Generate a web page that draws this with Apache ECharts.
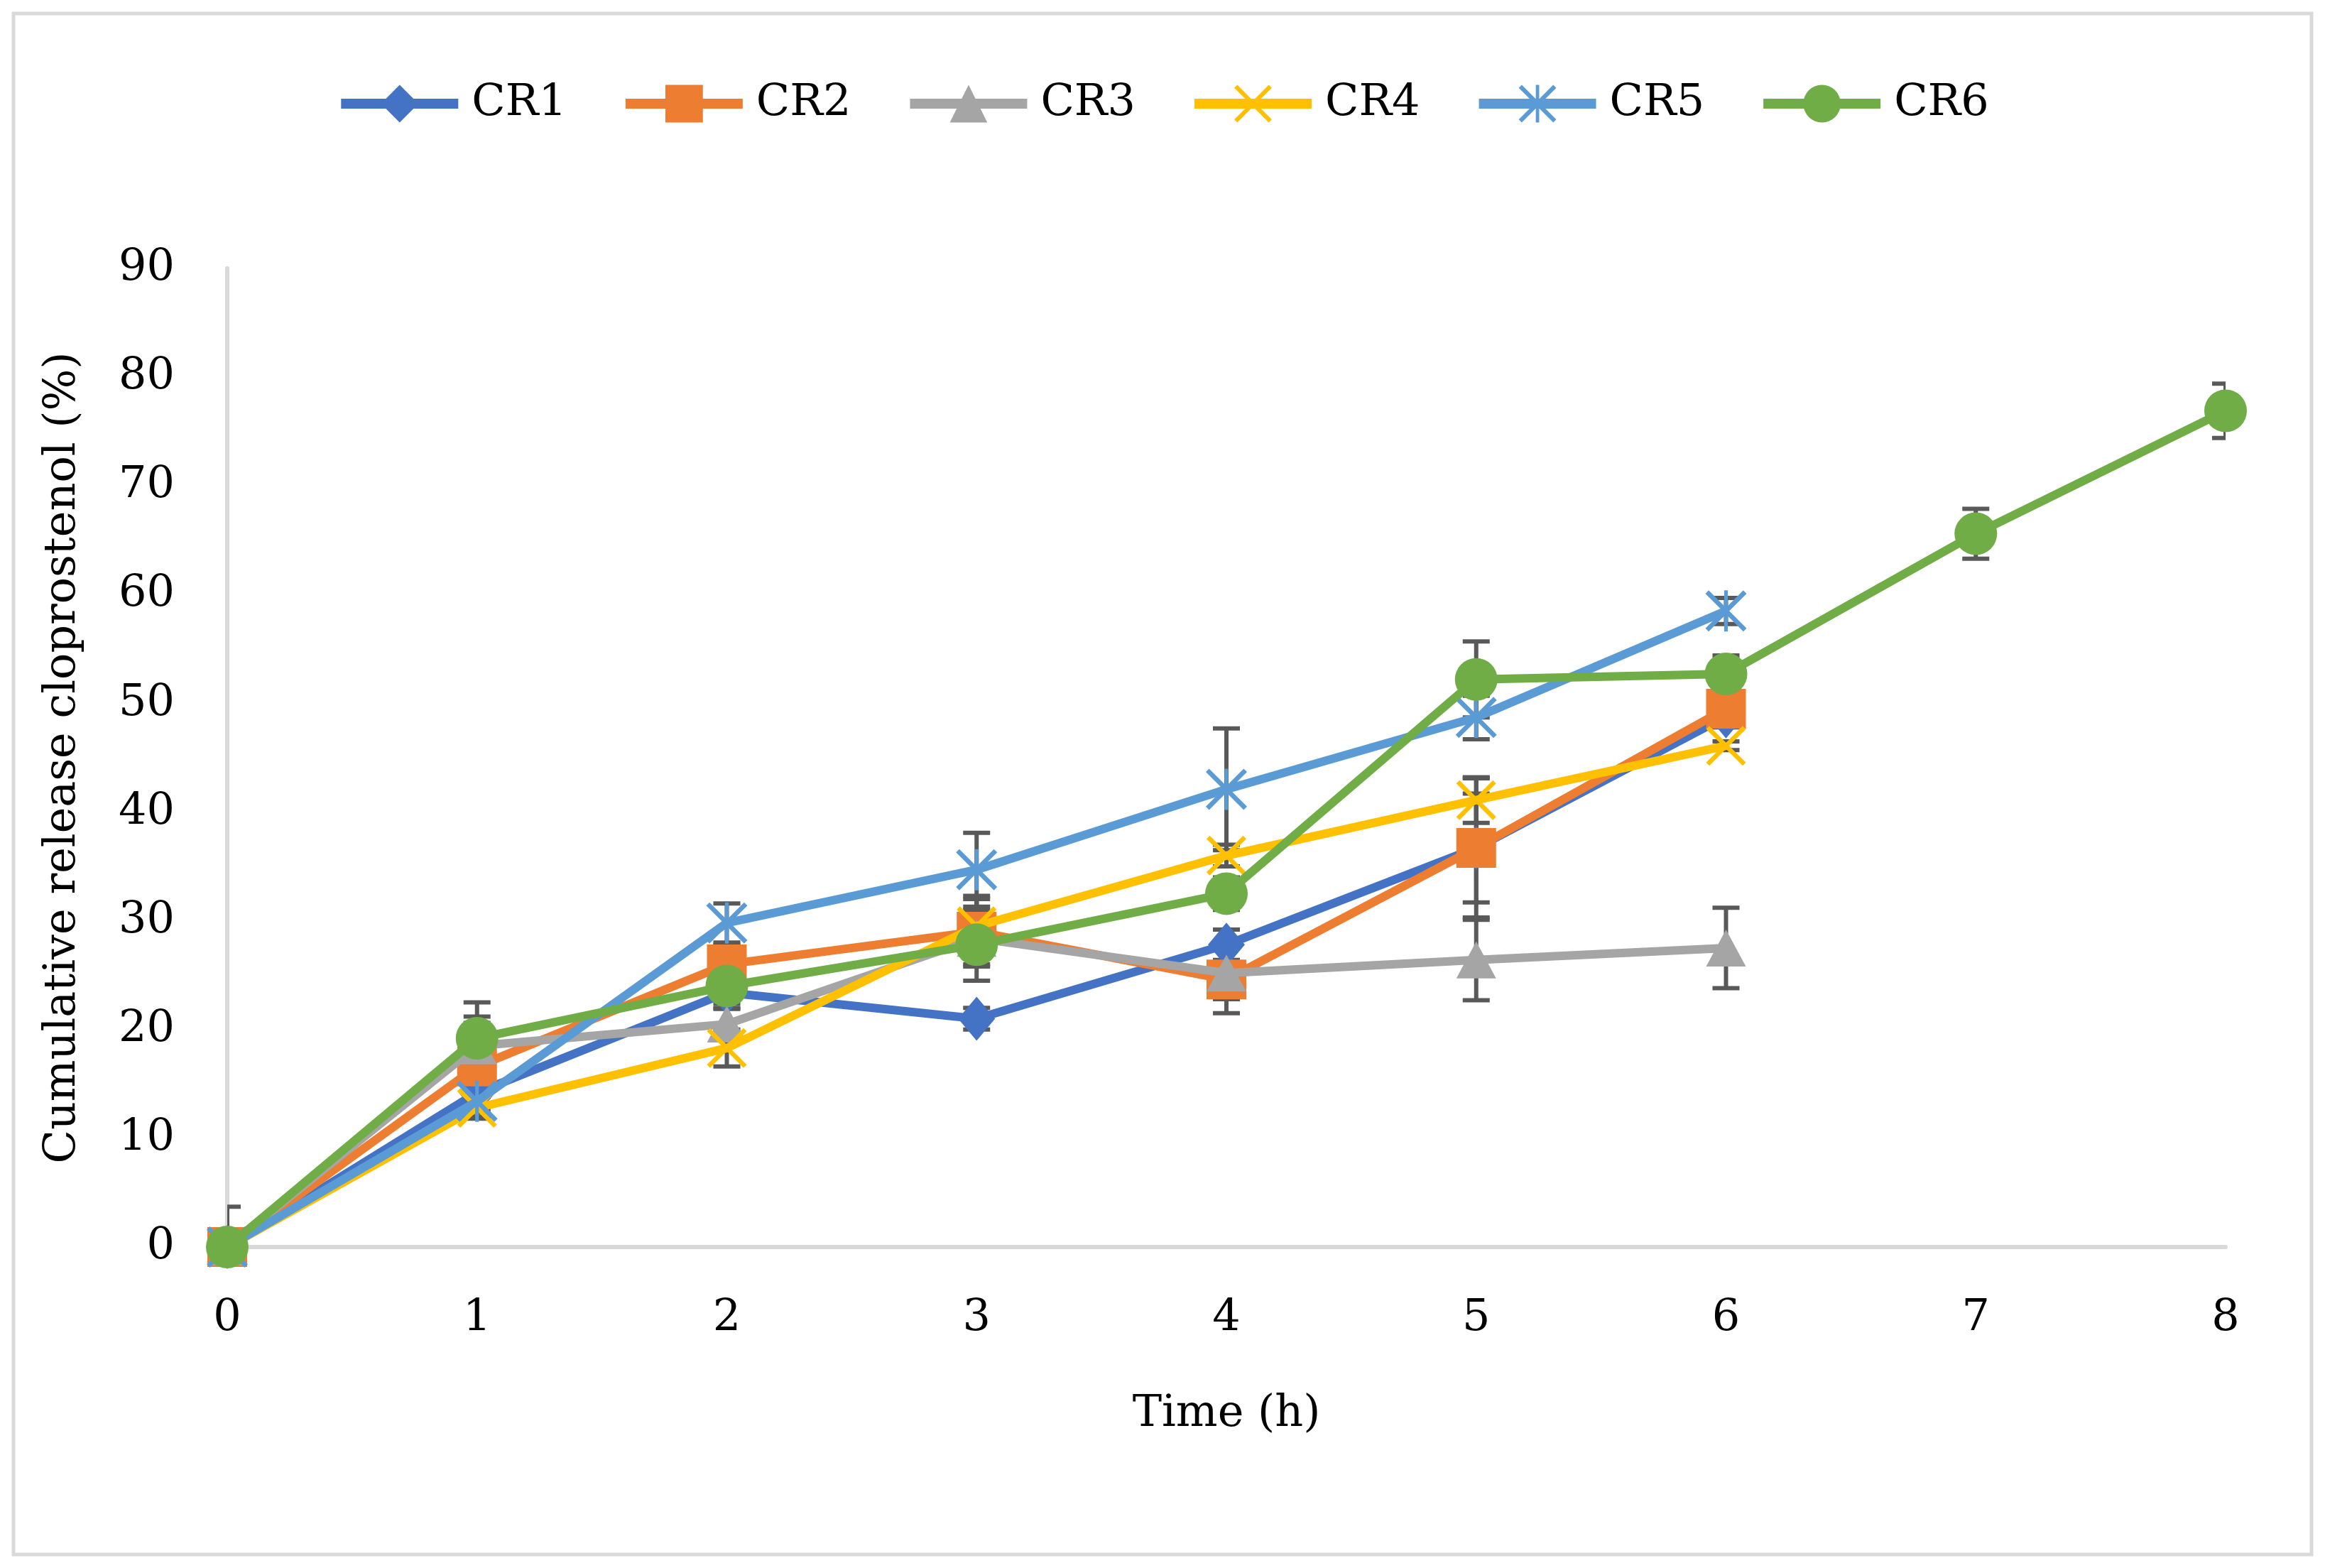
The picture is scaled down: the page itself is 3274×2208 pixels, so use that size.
<!DOCTYPE html>
<html>
<head>
<meta charset="utf-8">
<script src="https://cdn.jsdelivr.net/npm/echarts@6/dist/echarts.min.js"></script>
<style>html,body{margin:0;padding:0;background:#fff;}#c{width:3274px;height:2208px;}</style>
</head>
<body>
<div id="c"></div>
<script>
const times = [0, 1, 2, 3, 4, 5, 6, 7, 8];
const seriesNames = ['CR1', 'CR2', 'CR3', 'CR4', 'CR5', 'CR6'];
const cr1 = [0, 14.2, 23.4, 21.0, 27.8, 36.7, 48.8];
const cr2 = [0, 16.6, 26.0, 29.0, 24.6, 36.7, 49.5];
const cr3 = [0, 18.5, 20.5, 28.4, 25.2, 26.4, 27.5];
const cr4 = [0, 12.8, 18.3, 29.5, 36.0, 41.1, 46.1];
const cr5 = [0, 13.4, 29.8, 34.7, 42.1, 48.7, 58.5];
const cr6 = [0, 19.2, 24.0, 27.8, 32.5, 52.2, 52.7, 65.6, 76.9];
const err1 = [0, 1.5, 1.0, 1.0, 1.4, 6.4, 1.0];
const err2 = [0, 4.6, 1.8, 3.0, 3.1, 5.0, 1.2];
const err3 = [3.7, 2.1, 1.4, 3.9, 2.4, 3.7, 3.7];
const err4 = [0, 1.0, 1.7, 1.5, 1.0, 2.1, 0.4];
const err5 = [0, 1.0, 1.8, 3.4, 5.6, 2.0, 1.2];
const err6 = [0, 3.3, 2.0, 2.0, 1.5, 3.5, 1.7, 2.3, 2.5];
const colors = ['#4472C4', '#ED7D31', '#A5A5A5', '#FFC000', '#5B9BD5', '#70AD47'];

const allVals = [cr1, cr2, cr3, cr4, cr5, cr6];
const allErrs = [err1, err2, err3, err4, err5, err6];

const xPath = 'path://M0,8 L8,0 L100,92 L92,100 Z M92,0 L100,8 L8,100 L0,92 Z';
const starPath = 'path://M0,8 L8,0 L100,92 L92,100 Z M92,0 L100,8 L8,100 L0,92 Z M45.5,0 L54.5,0 L54.5,100 L45.5,100 Z';
const symbols = ['diamond', 'rect', 'triangle', xPath, starPath, 'circle'];
const symbolSizes = [[52, 62], 56, [56, 52], 56, 58, 60];

const FONT = 'DejaVu Serif';

const errData = [];
allVals.forEach((vals, s) => {
  vals.forEach((v, i) => {
    if (allErrs[s][i] > 0) errData.push([times[i], v, allErrs[s][i]]);
  });
});

const lineSeries = allVals.map((vals, s) => ({
  name: seriesNames[s],
  type: 'line',
  data: vals.map((v, i) => [times[i], v]),
  symbol: symbols[s],
  symbolSize: symbolSizes[s],
  showAllSymbol: true,
  lineStyle: { color: colors[s], width: 12 },
  itemStyle: { color: colors[s] },
  z: 3 + s,
  clip: false,
  animation: false
}));

const errSeries = {
  type: 'custom',
  name: 'err',
  data: errData,
  z: 2,
  clip: true,
  silent: true,
  animation: false,
  renderItem: function (params, api) {
    const x = api.value(0), y = api.value(1), e = api.value(2);
    const top = api.coord([x, y + e]);
    const bot = api.coord([x, y - e]);
    const cw = 19;
    const st = { stroke: '#595959', lineWidth: 6 };
    return {
      type: 'group',
      children: [
        { type: 'line', shape: { x1: top[0], y1: top[1], x2: bot[0], y2: bot[1] }, style: st },
        { type: 'line', shape: { x1: top[0] - cw, y1: top[1], x2: top[0] + cw, y2: top[1] }, style: st },
        { type: 'line', shape: { x1: bot[0] - cw, y1: bot[1], x2: bot[0] + cw, y2: bot[1] }, style: st }
      ]
    };
  }
};

const chart = echarts.init(document.getElementById('c'));
chart.setOption({
  backgroundColor: '#fff',
  animation: false,
  graphic: [{
    type: 'rect',
    shape: { x: 19, y: 19, width: 3236, height: 2170 },
    style: { fill: 'none', stroke: '#D9D9D9', lineWidth: 5 },
    z: -1
  }],
  legend: {
    data: seriesNames,
    top: 110,
    left: 'center',
    itemWidth: 165,
    itemHeight: 66,
    itemGap: 76,
    lineStyle: { width: 14 },
    textStyle: { fontFamily: FONT, fontSize: 62, color: '#000', padding: [0, 0, 0, 14] }
  },
  grid: { left: 320, right: 140, top: 378, bottom: 452, containLabel: false },
  xAxis: {
    type: 'value',
    min: 0, max: 8, interval: 1,
    name: 'Time (h)',
    nameLocation: 'middle',
    nameGap: 205,
    nameTextStyle: { fontFamily: FONT, fontSize: 62, color: '#000' },
    axisLine: { show: true, lineStyle: { color: '#D9D9D9', width: 6 } },
    axisTick: { show: false },
    splitLine: { show: false },
    axisLabel: { fontFamily: FONT, fontSize: 62, color: '#000', margin: 70 }
  },
  yAxis: {
    type: 'value',
    min: 0, max: 90, interval: 10,
    name: 'Cumulative release cloprostenol (%)',
    nameLocation: 'middle',
    nameGap: 200,
    nameTextStyle: { fontFamily: FONT, fontSize: 62, color: '#000' },
    axisLine: { show: true, lineStyle: { color: '#D9D9D9', width: 6 } },
    axisTick: { show: false },
    splitLine: { show: false },
    axisLabel: { fontFamily: FONT, fontSize: 62, color: '#000', margin: 74 }
  },
  series: [errSeries].concat(lineSeries)
});
</script>
</body>
</html>
